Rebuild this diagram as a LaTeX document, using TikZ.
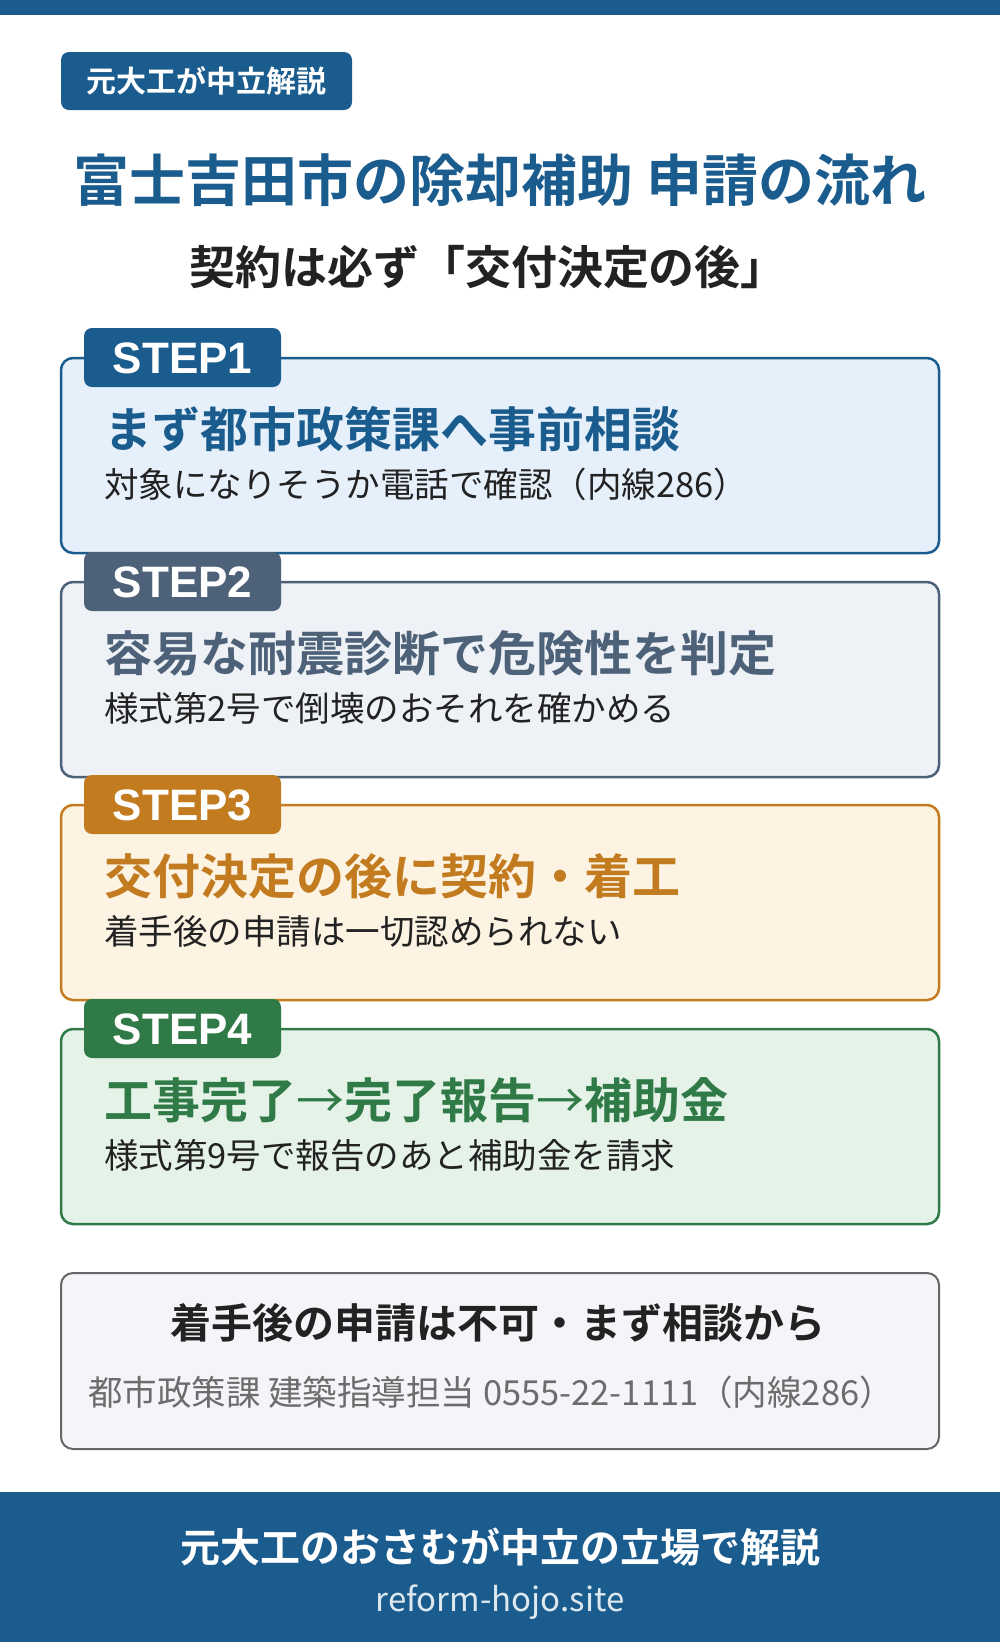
\documentclass[tikz,border=0pt]{standalone}
\usepackage{fontspec}
\newfontfamily\jp{Noto Sans CJK JP}
\newfontfamily\jpb{Noto Sans CJK JP Bold}
\newfontfamily\sans{Liberation Sans}
\definecolor{c1}{HTML}{1B5C8E}\definecolor{f1}{HTML}{E6F0FA}
\definecolor{c2}{HTML}{4D6178}\definecolor{f2}{HTML}{EEF1F5}
\definecolor{c3}{HTML}{C27C1F}\definecolor{f3}{HTML}{FDF3E3}
\definecolor{c4}{HTML}{2F7A46}\definecolor{f4}{HTML}{E5F2E8}
\definecolor{tx}{HTML}{222222}
\tikzset{
 box/.style={draw=#1,line width=2.5pt,rounded corners=12pt},
 head/.style={anchor=west,text=#1,font=\jpb\fontsize{48}{52}\selectfont,inner sep=0pt},
 sub/.style={anchor=west,text=tx,font=\jp\fontsize{34.5}{36}\selectfont,inner sep=0pt},
}
\newcommand\thinarr{{\jp →}}
\begin{document}
\begin{tikzpicture}[x=1pt,y=-1pt]
\useasboundingbox (0,0) rectangle (1000,1642);
\fill[white] (0,0) rectangle (1000,1642);
\fill[c1] (0,0) rectangle (1000,15);
\fill[c1,rounded corners=8pt] (61,52) rectangle (352,110);
\node[text=white,font=\jpb\fontsize{30}{32}\selectfont] (badge) at (206.5,81) {元大工が中立解説};
\node[text=c1,font=\jpb\fontsize{56}{60}\selectfont] (title) at (500,180) {富士吉田市の除却補助\ 申請の流れ};
\node[text=tx,font=\jpb\fontsize{46}{48}\selectfont] (subt) at (488,267) {契約は必ず「交付決定の後」};
\foreach \i/\y/\h/\s in {
 1/358/まず都市政策課へ事前相談/対象になりそうか電話で確認（内線286）,
 2/582/容易な耐震診断で危険性を判定/様式第2号で倒壊のおそれを確かめる,
 3/805/交付決定の後に契約・着工/着手後の申請は一切認められない,
 4/1029/工事完了\thinarr 完了報告\thinarr 補助金/様式第9号で報告のあと補助金を請求}{
 \draw[box=c\i,fill=f\i] (61,\y) rectangle (939,\y+195);
 \fill[c\i,rounded corners=8pt] (84,\y-30) rectangle (281,\y+29);
 \node[text=white,font=\sans\bfseries\fontsize{44}{44}\selectfont] (t\i) at (182.5,\y) {STEP\i};
 \node[head=c\i] (h\i) at (104,\y+71) {\h};
 \node[sub] (s\i) at (104,\y+126) {\s};
}
\draw[draw=gray!80!black,line width=2pt,rounded corners=12pt,fill=f2!70!white] (61,1273) rectangle (939,1449);
\node[text=tx,font=\jpb\fontsize{41}{44}\selectfont] (n1) at (498,1323) {着手後の申請は不可・まず相談から};
\node[text=gray!85!black,font=\jp\fontsize{34.5}{36}\selectfont] (n2) at (491,1392) {都市政策課\ 建築指導担当 0555-22-1111（内線286）};
\fill[c1] (0,1492) rectangle (1000,1642);
\node[text=white,font=\jpb\fontsize{40}{42}\selectfont] (f1) at (500,1547) {元大工のおさむが中立の立場で解説};
\node[text=white!85!c1,font=\jp\fontsize{33}{34}\selectfont] (f2) at (500,1602) {reform-hojo.site};
\end{tikzpicture}
\end{document}
